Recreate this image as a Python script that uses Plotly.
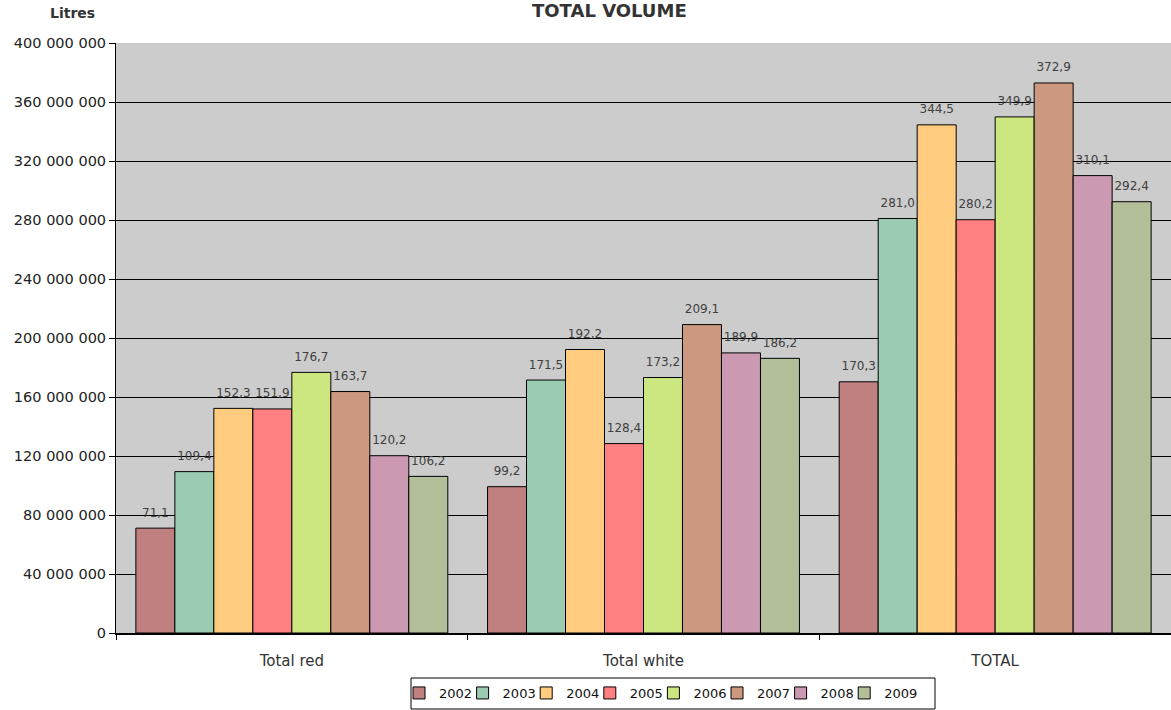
import plotly.graph_objects as go

categories = ["Total red", "Total white", "TOTAL"]
years = ["2002", "2003", "2004", "2005", "2006", "2007", "2008", "2009"]
# values in millions of litres
v2002 = [71.1, 99.2, 170.3]
v2003 = [109.4, 171.5, 281.0]
v2004 = [152.3, 192.2, 344.5]
v2005 = [151.9, 128.4, 280.2]
v2006 = [176.7, 173.2, 349.9]
v2007 = [163.7, 209.1, 372.9]
v2008 = [120.2, 189.9, 310.1]
v2009 = [106.2, 186.2, 292.4]
series = [v2002, v2003, v2004, v2005, v2006, v2007, v2008, v2009]
colors = ["#C0807F", "#9BCCB3", "#FFCC80", "#FF8080", "#CCE680", "#CC9980", "#CC99B3", "#B3BF99"]

FONT = "DejaVu Sans"
W, H = 1171, 710
L, R, T, B = 116, 0, 43, 77
PW, PH = W - L - R, H - T - B
GAP = 0.113


def px_x(p):
    return (p - L) / PW


def px_y(p):
    return (H - B - p) / PH


fig = go.Figure()
for yr, vals, col in zip(years, series, colors):
    fig.add_trace(go.Bar(
        name=yr, x=categories, y=[v * 1e6 for v in vals],
        marker=dict(color=col, line=dict(color="#000000", width=1)),
        offsetgroup=yr, alignmentgroup="a",
    ))
for yr, vals in zip(years, series):
    fig.add_trace(go.Scatter(
        x=categories, y=[v * 1e6 for v in vals], mode="markers+text",
        text=[f"{v:.1f}".replace(".", ",") for v in vals],
        textposition="top center",
        textfont=dict(family=FONT, size=12, color="#404040"),
        marker=dict(size=12, color="rgba(0,0,0,0)", line=dict(width=0)),
        offsetgroup=yr, alignmentgroup="a",
        showlegend=False, hoverinfo="skip", cliponaxis=False,
    ))
# spacer entry so the last legend label is not clipped
fig.add_trace(go.Scatter(
    x=[None], y=[None], mode="lines", name=" ",
    line=dict(color="rgba(0,0,0,0)", width=0),
    visible="legendonly", hoverinfo="skip",
))

fig.update_layout(
    width=W, height=H,
    margin=dict(l=L, r=R, t=T, b=B, autoexpand=False),
    paper_bgcolor="white",
    plot_bgcolor="#CCCCCC",
    barmode="group",
    bargap=GAP,
    bargroupgap=0,
    scattermode="group",
    scattergap=GAP,
    separators=", ",
    font=dict(family=FONT, size=12, color="#000000"),
    showlegend=True,
    legend=dict(
        orientation="h",
        x=px_x(399), xref="paper", xanchor="left",
        y=px_y(678), yanchor="top",
        borderwidth=0,
        bgcolor="rgba(0,0,0,0)",
        font=dict(family=FONT, size=13, color="#111111"),
        itemwidth=30,
        entrywidth=18.6, entrywidthmode="pixels",
        tracegroupgap=0,
        itemclick=False, itemdoubleclick=False,
    ),
    shapes=[
        dict(type="rect", xref="paper", yref="paper",
             x0=px_x(411), x1=px_x(935), y0=px_y(709), y1=px_y(678),
             line=dict(color="#000000", width=1), fillcolor="white", layer="below"),
    ],
    annotations=[
        dict(text="<b>TOTAL VOLUME</b>", x=px_x(609), y=px_y(10),
             xref="paper", yref="paper", xanchor="center", yanchor="middle", showarrow=False,
             font=dict(family=FONT, size=18, color="#333333")),
        dict(text="<b>Litres</b>", x=px_x(72), y=px_y(13),
             xref="paper", yref="paper", xanchor="center", yanchor="middle", showarrow=False,
             font=dict(family=FONT, size=14, color="#333333")),
    ],
)

fig.update_yaxes(
    range=[0, 400e6], dtick=40e6, tickformat=",.0f",
    showgrid=True, gridcolor="#000000", gridwidth=1,
    showline=True, linecolor="#000000", linewidth=1,
    ticks="outside", ticklen=6, tickcolor="#000000",
    tickfont=dict(family=FONT, size=14.5, color="#222222"),
    zeroline=False, automargin=False,
)
fig.update_xaxes(
    showline=True, linecolor="#000000", linewidth=2,
    ticks="outside", ticklen=5, tickcolor="#000000", tickson="boundaries",
    ticklabelstandoff=13,
    tickfont=dict(family=FONT, size=15, color="#333333"),
    showgrid=False, automargin=False,
)

fig.write_html("out.html", config={"displayModeBar": False},
               post_script="document.body.style.margin='0';document.body.style.overflow='hidden';")
